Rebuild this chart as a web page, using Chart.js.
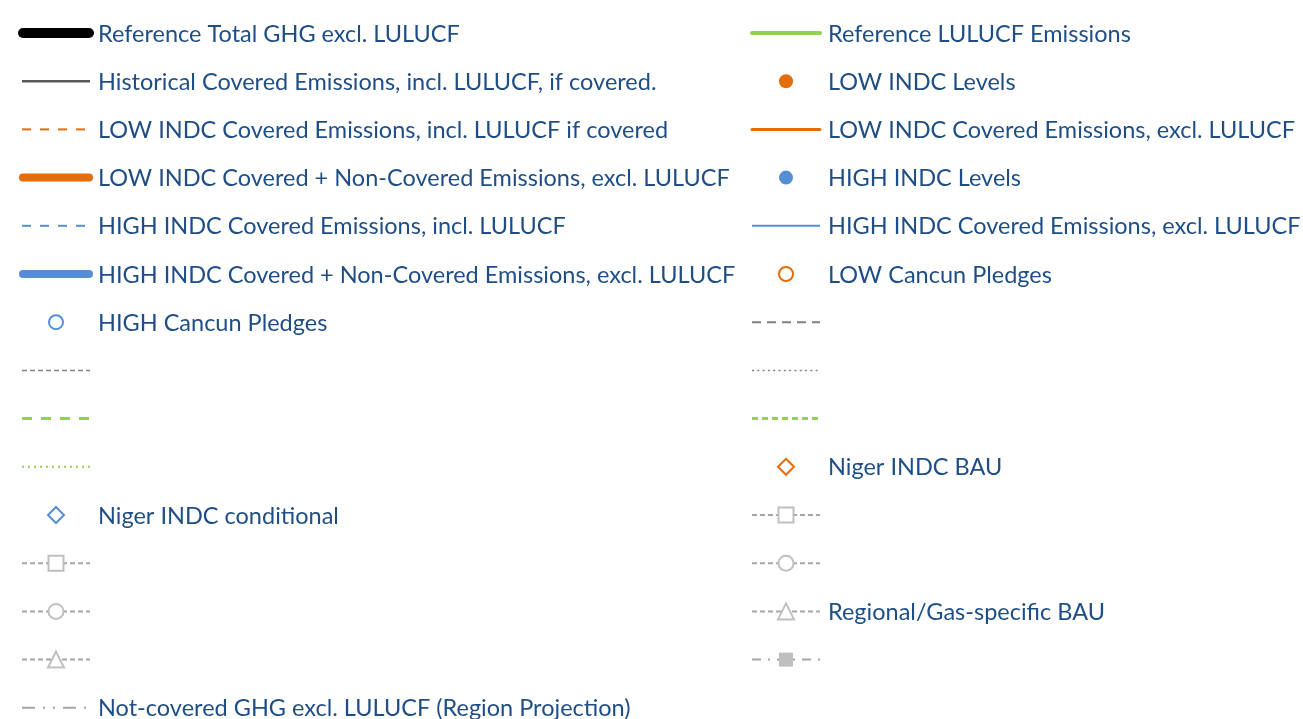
<!DOCTYPE html>
<html>
<head>
<meta charset="utf-8">
<script src="https://cdn.jsdelivr.net/npm/chart.js@4.4.1/dist/chart.umd.min.js"></script>
<style>
  html, body { margin: 0; padding: 0; background: #fff; }
  #wrap { width: 1303px; height: 719px; }
</style>
</head>
<body>
<div id="wrap"><canvas id="legendChart" width="1303" height="719"></canvas></div>
<script>
// legend entries, in Excel order (row-wise, two per row); blank label = unnamed series
const seriesLabels = [
  'Reference Total GHG excl. LULUCF',
  'Reference LULUCF Emissions',
  'Historical Covered Emissions, incl. LULUCF, if covered.',
  'LOW INDC Levels',
  'LOW INDC Covered Emissions, incl. LULUCF if covered',
  'LOW INDC Covered Emissions, excl. LULUCF',
  'LOW INDC Covered + Non-Covered Emissions, excl. LULUCF',
  'HIGH INDC Levels',
  'HIGH INDC Covered Emissions, incl. LULUCF',
  'HIGH INDC Covered Emissions, excl. LULUCF',
  'HIGH INDC Covered + Non-Covered Emissions, excl. LULUCF',
  'LOW Cancun Pledges',
  'HIGH Cancun Pledges',
  '', '', '', '', '', '',
  'Niger INDC BAU',
  'Niger INDC conditional',
  '', '', '', '',
  'Regional/Gas-specific BAU',
  '', '',
  'Not-covered GHG excl. LULUCF (Region Projection)'
];

// the chart area itself is empty in the picture: no values per series
const seriesValues = seriesLabels.map(() => []);

const C = {
  black: '#000000', green: '#92D050', dark: '#595959', orange: '#E46C0A',
  blue: '#558ED5', gray: '#808080', lgray: '#A6A6A6', marker: '#BFBFBF'
};

// style per series: colour, width, dash, marker
const seriesStyles = [
  { color: C.black, width: 10, dash: [] },
  { color: C.green, width: 4, dash: [] },
  { color: C.dark, width: 2.5, dash: [] },
  { color: C.orange, marker: 'dot' },
  { color: C.orange, width: 2, dash: [9, 9] },
  { color: C.orange, width: 3, dash: [] },
  { color: C.orange, width: 8, dash: [] },
  { color: C.blue, marker: 'dot' },
  { color: C.blue, width: 2, dash: [9, 9] },
  { color: C.blue, width: 2, dash: [] },
  { color: C.blue, width: 8, dash: [] },
  { color: C.orange, marker: 'ring' },
  { color: C.blue, marker: 'ring' },
  { color: C.gray, width: 2, dash: [9, 6] },
  { color: C.gray, width: 1.5, dash: [5, 3] },
  { color: C.gray, width: 1.5, dash: [2, 3.3] },
  { color: C.green, width: 3, dash: [10, 9] },
  { color: C.green, width: 3, dash: [6, 4] },
  { color: C.green, width: 2, dash: [2, 4] },
  { color: C.orange, marker: 'diamond' },
  { color: C.blue, marker: 'diamond' },
  { color: C.lgray, width: 2, dash: [5, 3], marker: 'square' },
  { color: C.lgray, width: 2, dash: [5, 3], marker: 'square' },
  { color: C.lgray, width: 2, dash: [5, 3], marker: 'circle' },
  { color: C.lgray, width: 2, dash: [5, 3], marker: 'circle' },
  { color: C.lgray, width: 2, dash: [5, 3], marker: 'triangle' },
  { color: C.lgray, width: 2, dash: [5, 3], marker: 'triangle' },
  { color: C.lgray, width: 2, dash: [9, 7, 2, 7], marker: 'filled' },
  { color: C.lgray, width: 2, dash: [13, 8, 2, 8, 2, 8] }
];

const colX = [22, 752];
const sampleW = 68;
const textGap = 8;
const rowTop = 33;
const rowStep = 48.2;
const textColor = '#1F4E87';
const fontSpec = '23.5px Lato, "Open Sans", sans-serif';

function drawMarker(ctx, kind, x, y, color) {
  ctx.save();
  ctx.setLineDash([]);
  ctx.lineWidth = 2;
  ctx.strokeStyle = color;
  ctx.fillStyle = color;
  ctx.beginPath();
  switch (kind) {
    case 'dot':
      ctx.arc(x, y, 7, 0, Math.PI * 2);
      ctx.fill();
      break;
    case 'ring':
      ctx.arc(x, y, 7, 0, Math.PI * 2);
      ctx.fillStyle = '#fff';
      ctx.fill();
      ctx.stroke();
      break;
    case 'diamond':
      ctx.moveTo(x, y - 8);
      ctx.lineTo(x + 8, y);
      ctx.lineTo(x, y + 8);
      ctx.lineTo(x - 8, y);
      ctx.closePath();
      ctx.fillStyle = '#fff';
      ctx.fill();
      ctx.stroke();
      break;
    case 'square':
      ctx.strokeStyle = C.marker;
      ctx.fillStyle = '#fff';
      ctx.rect(x - 7.5, y - 7.5, 15, 15);
      ctx.fill();
      ctx.stroke();
      break;
    case 'circle':
      ctx.strokeStyle = C.marker;
      ctx.fillStyle = '#fff';
      ctx.arc(x, y, 7.5, 0, Math.PI * 2);
      ctx.fill();
      ctx.stroke();
      break;
    case 'triangle':
      ctx.strokeStyle = C.marker;
      ctx.fillStyle = '#fff';
      ctx.moveTo(x, y - 8);
      ctx.lineTo(x + 8, y + 8);
      ctx.lineTo(x - 8, y + 8);
      ctx.closePath();
      ctx.fill();
      ctx.stroke();
      break;
    case 'filled':
      ctx.fillStyle = C.marker;
      ctx.fillRect(x - 7, y - 7, 14, 14);
      break;
    default:
      break;
  }
  ctx.restore();
}

const excelLegend = {
  id: 'excelLegend',
  afterDraw(chart) {
    const ctx = chart.ctx;
    ctx.save();
    chart.data.datasets.forEach((ds, i) => {
      const st = seriesStyles[i];
      const x0 = colX[i % 2];
      const y = rowTop + Math.floor(i / 2) * rowStep;
      if (st.width) {
        ctx.save();
        ctx.strokeStyle = st.color;
        ctx.lineWidth = st.width;
        ctx.lineCap = st.width >= 3 && !st.dash.length ? 'round' : 'butt';
        ctx.setLineDash(st.dash);
        ctx.beginPath();
        const pad = st.width >= 8 ? 1 : 0;
        ctx.moveTo(x0 + pad, y);
        ctx.lineTo(x0 + sampleW - pad, y);
        ctx.stroke();
        ctx.restore();
      }
      if (st.marker) drawMarker(ctx, st.marker, x0 + sampleW / 2, y, st.color);
      if (ds.label) {
        ctx.font = fontSpec;
        ctx.fillStyle = textColor;
        ctx.textBaseline = 'middle';
        ctx.fillText(ds.label, x0 + sampleW + textGap, y + 1);
      }
    });
    ctx.restore();
  }
};

new Chart(document.getElementById('legendChart'), {
  type: 'line',
  data: {
    labels: [],
    datasets: seriesLabels.map((label, i) => ({
      label,
      data: seriesValues[i],
      borderColor: seriesStyles[i].color,
      borderWidth: seriesStyles[i].width || 0,
      borderDash: seriesStyles[i].dash || []
    }))
  },
  options: {
    responsive: false,
    animation: false,
    layout: { padding: 0 },
    scales: { x: { display: false }, y: { display: false } },
    plugins: { legend: { display: false }, tooltip: { enabled: false } }
  },
  plugins: [excelLegend]
});
</script>
</body>
</html>
